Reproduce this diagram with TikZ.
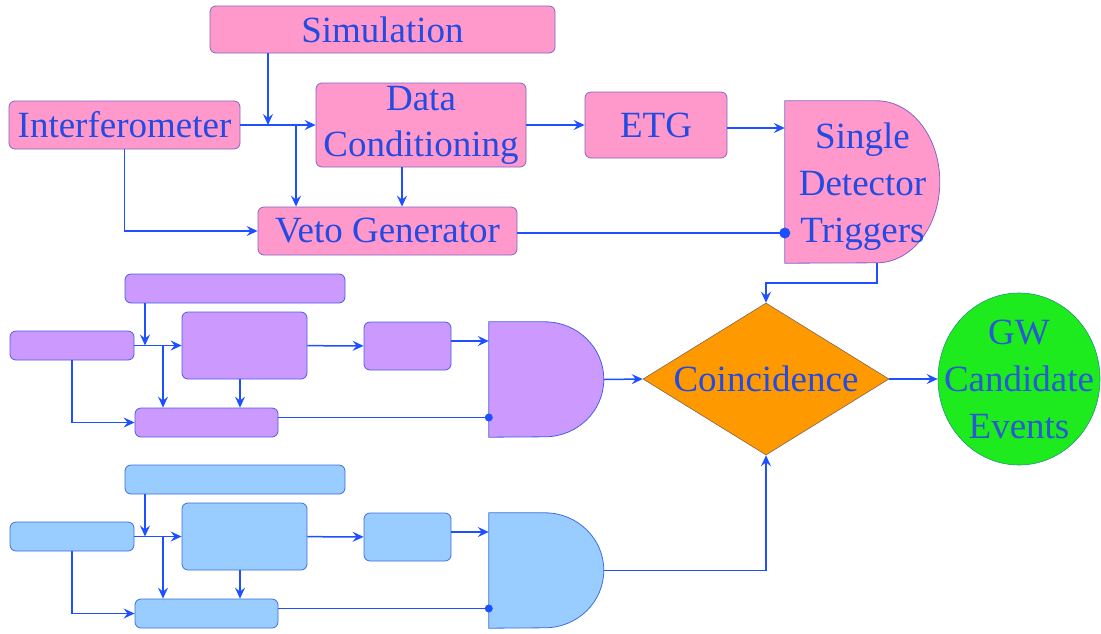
\documentclass[tikz,border=0pt]{standalone}
\usepackage{fontspec}
\setmainfont{Liberation Serif}
\usetikzlibrary{shapes.geometric,arrows.meta,backgrounds}
\definecolor{pinkf}{RGB}{255,153,204}
\definecolor{pinkd}{RGB}{130,100,200}
\definecolor{purf}{RGB}{204,153,255}
\definecolor{purd}{RGB}{70,95,230}
\definecolor{bluf}{RGB}{153,204,255}
\definecolor{blud}{RGB}{60,110,225}
\definecolor{linec}{RGB}{30,80,255}
\definecolor{txtc}{RGB}{35,75,225}
\definecolor{orf}{RGB}{255,153,0}
\definecolor{ord}{RGB}{130,100,80}
\definecolor{grf}{RGB}{30,235,30}
\definecolor{grd}{RGB}{30,150,120}
\begin{document}
\begin{tikzpicture}[x=1pt,y=-1pt,
  every node/.style={font=\fontsize{37}{44}\selectfont, text=txtc},
  box/.style={rounded corners=6pt, line width=0.8pt, inner sep=0pt, align=center},
  pbox/.style={box, fill=pinkf, draw=pinkd},
  arr/.style={draw=linec, line width=1.5pt, -{Stealth[length=11pt,width=10pt,inset=4pt]}},
  wire/.style={draw=linec, line width=1.5pt},
  dshape/.style={line width=0.8pt}
]
\useasboundingbox (0,0) rectangle (1101,633);

% ---------- pink detector ----------
\node[pbox, minimum width=345pt, minimum height=47pt] (sim) at (382.5,29.5) {Simulation};
\node[pbox, minimum width=231pt, minimum height=48pt] (interf) at (124.5,125) {Interferometer};
\node[pbox, minimum width=210pt, minimum height=84pt, font=\fontsize{37}{46}\selectfont] (dc) at (421,125) {Data\\Conditioning};
\node[pbox, minimum width=142pt, minimum height=66pt] (etg) at (656,125) {ETG};
\node[pbox, minimum width=259pt, minimum height=48pt] (veto) at (387.5,231) {Veto Generator};
\node[minimum width=155pt, minimum height=162pt, inner sep=0pt] (sdt) at (862.5,182) {};
\node[align=center, font=\fontsize{37}{47}\selectfont] (sdttxt) at ([yshift=-5pt]sdt.center) {Single\\Detector\\Triggers};
\begin{pgfonlayer}{background}
\path[dshape, fill=pinkf, draw=pinkd] (sdt.north west) -- ++(92pt,0)
  arc[start angle=90, end angle=-90, x radius=63pt, y radius=81pt] -- (sdt.south west) -- cycle;
\end{pgfonlayer}

\coordinate (ja) at (268,125);
\coordinate (jb) at (296,125);
\coordinate (xc) at (402,200);
\draw[arr] (interf) -- (dc);
\draw[arr] (sim.south -| ja) -- (ja);
\draw[arr] (jb) -- (jb |- veto.north);
\draw[arr] (dc.south -| xc) -- (veto.north -| xc);
\draw[arr] (interf.south) |- (veto.west);
\draw[arr] (dc) -- (etg);
\draw[arr] ([yshift=-3pt]etg.east) -- ([yshift=-3pt]etg.east -| sdt.west);
\draw[wire] ([yshift=-2pt]veto.east) -- ([yshift=-2pt]veto.east -| sdt.west);
\fill[linec] ([yshift=-2pt]veto.east -| sdt.west) circle (5.5pt);

% ---------- purple and blue detectors ----------
\foreach \p/\off/\f/\d in {p/0/purf/purd, b/191/bluf/blud}{
\begin{scope}[yshift=-\off pt]
\node[box, fill=\f, draw=\d, minimum width=220pt, minimum height=29pt] (\p-top) at (235,288.5) {};
\node[box, fill=\f, draw=\d, minimum width=124pt, minimum height=29pt] (\p-left) at (72,345.5) {};
\node[box, fill=\f, draw=\d, minimum width=125pt, minimum height=67pt] (\p-mid) at (244.5,345.5) {};
\node[box, fill=\f, draw=\d, minimum width=87pt, minimum height=48pt] (\p-small) at (407.5,346) {};
\node[box, fill=\f, draw=\d, minimum width=143pt, minimum height=29pt] (\p-bot) at (206.5,422.5) {};
\node[minimum width=115pt, minimum height=115pt, inner sep=0pt] (\p-D) at (546.5,379.5) {};
\path[dshape, fill=\f, draw=\d] (\p-D.north west) -- ++(56pt,0)
  arc[start angle=90, end angle=-90, x radius=59pt, y radius=57.5pt] -- (\p-D.south west) -- cycle;
\coordinate (\p-ja) at (145,345.5);
\coordinate (\p-jb) at (163,345.5);
\coordinate (\p-xc) at (240,400);
\end{scope}
\draw[arr] (\p-top.south -| \p-ja) -- (\p-ja);
\draw[arr] (\p-left) -- (\p-mid);
\draw[arr] (\p-jb) -- (\p-jb |- \p-bot.north);
\draw[arr] (\p-mid.south -| \p-xc) -- (\p-bot.north -| \p-xc);
\draw[arr] (\p-left.south) |- (\p-bot.west);
\draw[arr] (\p-mid) -- (\p-small);
\draw[arr] ([yshift=5pt]\p-small.east) -- ([yshift=5pt]\p-small.east -| \p-D.west);
\draw[wire] ([yshift=5pt]\p-bot.east) -- ([yshift=5pt]\p-bot.east -| \p-D.west);
\fill[linec] ([yshift=5pt]\p-bot.east -| \p-D.west) circle (4pt);
}

% ---------- coincidence and output ----------
\node[diamond, minimum width=246pt, minimum height=152pt, inner sep=0pt,
      fill=orf, draw=ord, line width=0.6pt] (coin) at (766,379) {};
\node (cointxt) at (coin) {Coincidence};
\node[ellipse, minimum width=162pt, minimum height=172pt, inner sep=0pt,
      fill=grf, draw=grd, line width=0.6pt] (gw) at (1019,379) {};
\node[align=center, font=\fontsize{37}{47}\selectfont, text={rgb,255:red,40;green,90;blue,210}] (gwtxt) at (gw) {GW\\Candidate\\Events};

\coordinate (sdtout) at (877,263);
\draw[arr] (sdtout) -- ++(0,20) -| (coin.north);
\draw[arr] (p-D.east) -- (coin.west);
\draw[arr] (b-D.east) -| (coin.south);
\draw[arr] (coin.east) -- (gw.west);
\end{tikzpicture}
\end{document}
